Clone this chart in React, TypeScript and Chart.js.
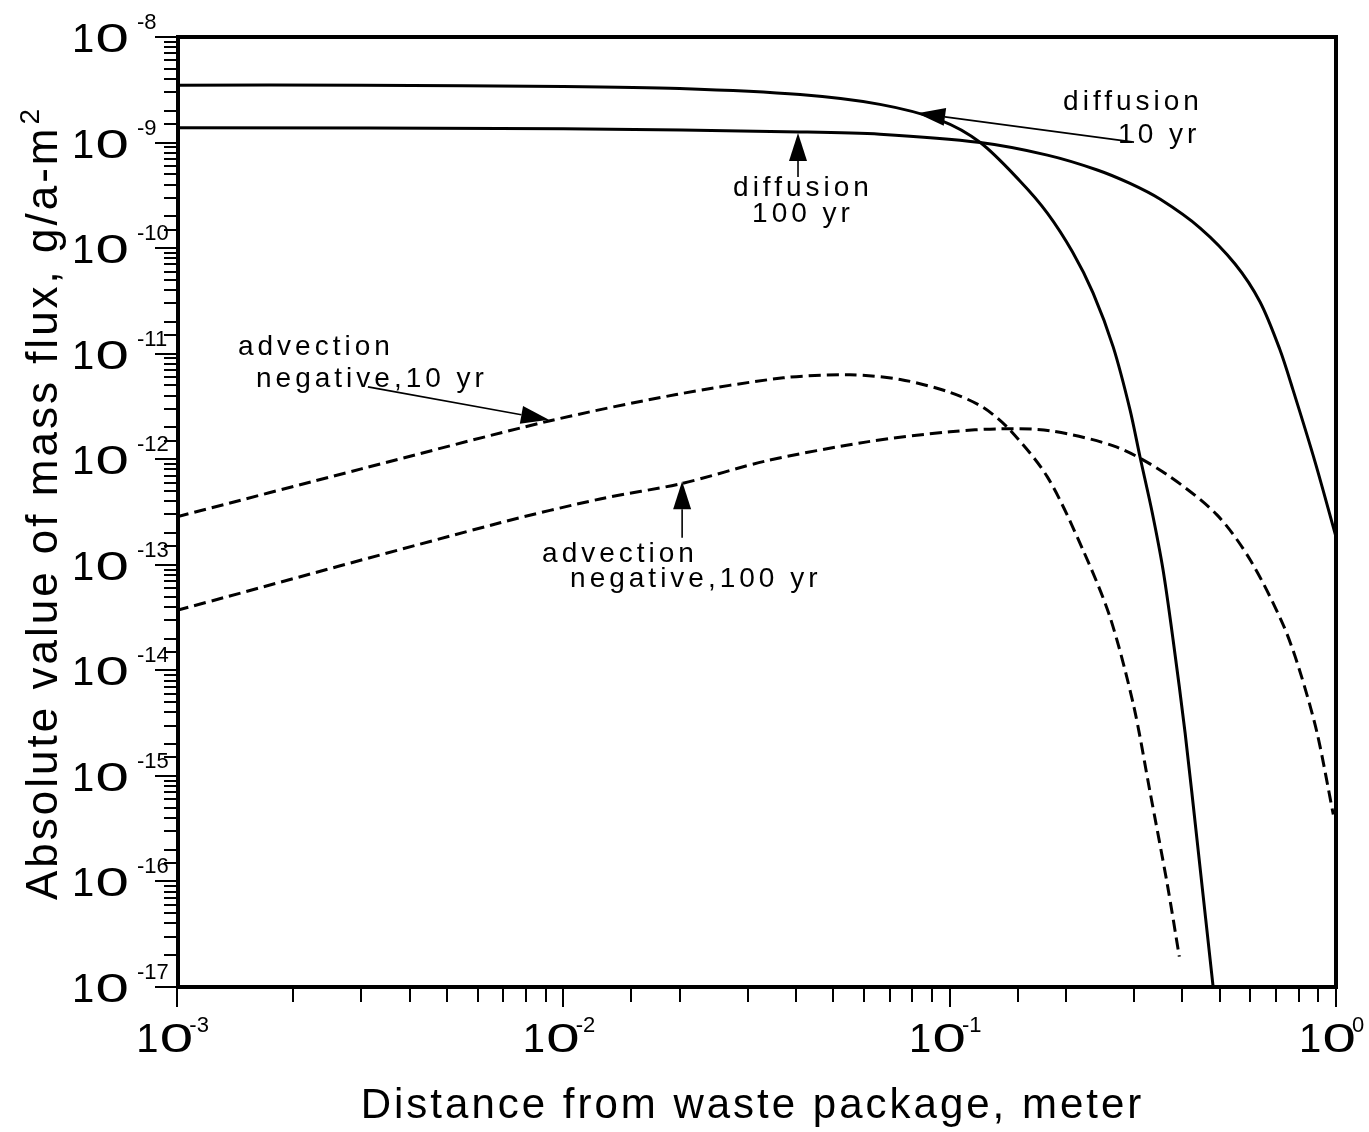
import React, { useEffect, useRef } from "react";
import { Chart, registerables } from "chart.js";

Chart.register(...registerables);

// ---- data ----
const diffusion10X = [0.001, 0.003, 0.01, 0.02, 0.041, 0.066, 0.0944, 0.12, 0.152, 0.179, 0.208, 0.235, 0.265, 0.293, 0.311, 0.3341, 0.3567, 0.3787, 0.4068, 0.4396, 0.4808];
const diffusion10Y = [3.5e-9, 3.5e-9, 3.4e-9, 3.25e-9, 2.85e-9, 2.3e-9, 1.63e-9, 1.0e-9, 4.33e-10, 2.15e-10, 9.2e-11, 3.77e-11, 1.16e-11, 2.94e-12, 1.05e-12, 3.18e-13, 8.97e-14, 1.95e-14, 2.56e-15, 2.0e-16, 1e-17];

const diffusion100X = [0.001, 0.01, 0.041, 0.066, 0.12, 0.179, 0.241, 0.293, 0.351, 0.445, 0.548, 0.636, 0.716, 0.774, 0.883, 1.0];
const diffusion100Y = [1.38e-9, 1.35e-9, 1.26e-9, 1.2e-9, 1.0e-9, 7.6e-10, 5.5e-10, 4.1e-10, 2.9e-10, 1.55e-10, 7.08e-11, 3.09e-11, 1.09e-11, 4.54e-12, 9.4e-13, 1.84e-13];

const advection10X = [0.001, 0.003, 0.00918, 0.0196, 0.0371, 0.0552, 0.0745, 0.1002, 0.122, 0.143, 0.179, 0.221, 0.26, 0.299, 0.33, 0.366, 0.393];
const advection10Y = [2.85e-13, 8.1e-13, 2.3e-12, 4.1e-12, 5.9e-12, 6.3e-12, 5.7e-12, 4.3e-12, 3.1e-12, 1.9e-12, 6.8e-13, 1.4e-13, 3.2e-14, 4.72e-15, 7.08e-16, 9.33e-17, 1.94e-17];

const advection100X = [0.001, 0.00686, 0.01245, 0.0203, 0.0336, 0.0611, 0.1002, 0.135, 0.182, 0.271, 0.366, 0.492, 0.6, 0.73, 0.807, 0.893, 0.984];
const advection100Y = [3.7e-14, 2.5e-13, 4.2e-13, 5.9e-13, 9.66e-13, 1.46e-12, 1.82e-12, 1.94e-12, 1.86e-12, 1.3e-12, 7.1e-13, 2.97e-13, 1.11e-13, 2.7e-14, 9.7e-15, 2.57e-15, 4.3e-16];

const xTickExponents = [-3, -2, -1, 0];
const yTickExponents = [-17, -16, -15, -14, -13, -12, -11, -10, -9, -8];

const xTitle = "Distance from waste package, meter";
const yTitle = "Absolute value of mass flux, g/a-m";
const yTitleSup = "2";

// annotation texts (left / baseline, in data coordinates)
const noteTexts = [
  { text: "diffusion", x: 0.1966, y: 2.035e-9 },
  { text: "10 yr", x: 0.2729, y: 9.91e-10 },
  { text: "diffusion", x: 0.0275, y: 3.12e-10 },
  { text: "100 yr", x: 0.0308, y: 1.77e-10 },
  { text: "advection", x: 0.001438, y: 9.74e-12 },
  { text: "negative,10 yr", x: 0.0016016, y: 4.85e-12 },
  { text: "advection", x: 0.008809, y: 1.068e-13 },
  { text: "negative,100 yr", x: 0.01041, y: 6.19e-14 },
];
// arrows: tail -> tip (data coordinates)
const noteArrows = [
  { x1: 0.3, y1: 1.01e-9, x2: 0.0824, y2: 1.9e-9 },
  { x1: 0.0405, y1: 4.72e-10, x2: 0.0405, y2: 1.23e-9 },
  { x1: 0.00312, y1: 4.85e-12, x2: 0.00918, y2: 2.36e-12 },
  { x1: 0.0203, y1: 1.8e-13, x2: 0.0203, y2: 6.2e-13 },
];

const FONT = '"Liberation Sans", Arial, Helvetica, sans-serif';
const ZERO_SCALE = 1.5;
const TEN_GAP = 4;

function pts(xs: number[], ys: number[]) {
  return xs.map((x, i) => ({ x, y: ys[i] }));
}

function tenMetrics(ctx: CanvasRenderingContext2D) {
  ctx.font = `40px ${FONT}`;
  const m1 = ctx.measureText("1");
  const m0 = ctx.measureText("0");
  const w1 = m1.actualBoundingBoxRight + m1.actualBoundingBoxLeft;
  const w0 = (m0.actualBoundingBoxRight + m0.actualBoundingBoxLeft) * ZERO_SCALE;
  return { m1, m0, w1, w0, total: w1 + TEN_GAP + w0 };
}

function drawTen(ctx: CanvasRenderingContext2D, inkLeft: number, baseline: number) {
  const t = tenMetrics(ctx);
  ctx.fillText("1", inkLeft + t.m1.actualBoundingBoxLeft, baseline);
  const left0 = inkLeft + t.w1 + TEN_GAP;
  ctx.save();
  ctx.translate(left0 + t.m0.actualBoundingBoxLeft * ZERO_SCALE, baseline);
  ctx.scale(ZERO_SCALE, 1);
  ctx.fillText("0", 0, 0);
  ctx.restore();
  return inkLeft + t.total;
}

function expWidth(ctx: CanvasRenderingContext2D, s: string) {
  ctx.font = `22px ${FONT}`;
  const m = ctx.measureText(s);
  return { w: m.actualBoundingBoxRight + m.actualBoundingBoxLeft, m };
}

function isMajor(v: number) {
  const lg = Math.log10(v);
  return Math.abs(lg - Math.round(lg)) < 1e-6;
}

const decor = {
  id: "decor",
  afterDraw(chart: any) {
    const ctx: CanvasRenderingContext2D = chart.ctx;
    const { left, top, right, bottom } = chart.chartArea;
    const xs = chart.scales.x;
    const ys = chart.scales.y;
    ctx.save();
    ctx.fillStyle = "#000";
    ctx.strokeStyle = "#000";
    ctx.textAlign = "left";
    ctx.textBaseline = "alphabetic";
    (ctx as any).letterSpacing = "0px";

    // frame
    ctx.lineWidth = 4;
    ctx.strokeRect(left + 1, top, right - left - 1, bottom - top);

    // ticks
    ctx.lineWidth = 2;
    ctx.beginPath();
    for (const t of ys.ticks) {
      const py = Math.round(ys.getPixelForValue(t.value));
      if (py < top - 1 || py > bottom + 1) continue;
      const len = isMajor(t.value) ? 22 : 13;
      ctx.moveTo(left - len, py);
      ctx.lineTo(left, py);
    }
    for (const t of xs.ticks) {
      const px = Math.round(xs.getPixelForValue(t.value));
      if (px < left - 1 || px > right + 1) continue;
      const len = isMajor(t.value) ? 20 : 15;
      ctx.moveTo(px, bottom);
      ctx.lineTo(px, bottom + len);
    }
    ctx.stroke();

    // y tick labels
    for (const e of yTickExponents) {
      const ty = ys.getPixelForValue(Math.pow(10, e));
      const t = tenMetrics(ctx);
      drawTen(ctx, left - 50 - t.total, ty + 15);
      const ex = expWidth(ctx, String(e));
      ctx.fillText(String(e), left - 40 + ex.m.actualBoundingBoxLeft, ty - 8);
    }
    // x tick labels
    for (const e of xTickExponents) {
      const tx = xs.getPixelForValue(Math.pow(10, e));
      const t = tenMetrics(ctx);
      const ex = expWidth(ctx, String(e));
      const total = t.total - 2 + ex.w;
      const inkLeft = tx - 3 - total / 2;
      const r = drawTen(ctx, inkLeft, bottom + 65);
      ctx.font = `22px ${FONT}`;
      ctx.fillText(String(e), r - 2 + ex.m.actualBoundingBoxLeft, bottom + 45);
    }

    // axis titles
    (ctx as any).letterSpacing = "3px";
    ctx.font = `42px ${FONT}`;
    ctx.textAlign = "center";
    ctx.fillText(xTitle, (left + right) / 2 - 4, bottom + 131);

    ctx.textAlign = "left";
    ctx.save();
    ctx.translate(left - 120, bottom - 87);
    ctx.rotate(-Math.PI / 2);
    ctx.font = `44px ${FONT}`;
    ctx.fillText(yTitle, 0, 0);
    const w = ctx.measureText(yTitle).width;
    ctx.font = `28px ${FONT}`;
    ctx.fillText(yTitleSup, w + 1, -18);
    ctx.restore();

    // annotations
    (ctx as any).letterSpacing = "4px";
    ctx.font = `28px ${FONT}`;
    for (const n of noteTexts) {
      ctx.fillText(n.text, xs.getPixelForValue(n.x), ys.getPixelForValue(n.y));
    }
    (ctx as any).letterSpacing = "0px";
    for (const a of noteArrows) {
      const x1 = xs.getPixelForValue(a.x1);
      const y1 = ys.getPixelForValue(a.y1);
      const x2 = xs.getPixelForValue(a.x2);
      const y2 = ys.getPixelForValue(a.y2);
      const dx = x2 - x1;
      const dy = y2 - y1;
      const L = Math.hypot(dx, dy);
      const ux = dx / L;
      const uy = dy / L;
      const headLen = 28;
      const half = 9;
      const bx = x2 - ux * headLen;
      const by = y2 - uy * headLen;
      ctx.lineWidth = 1.6;
      ctx.beginPath();
      ctx.moveTo(x1, y1);
      ctx.lineTo(bx, by);
      ctx.stroke();
      ctx.beginPath();
      ctx.moveTo(x2, y2);
      ctx.lineTo(bx - uy * half, by + ux * half);
      ctx.lineTo(bx + uy * half, by - ux * half);
      ctx.closePath();
      ctx.fill();
    }
    ctx.restore();
  },
};

export default function App() {
  const ref = useRef<HTMLCanvasElement | null>(null);
  useEffect(() => {
    if (!ref.current) return;
    const solid = {
      borderColor: "#000",
      borderWidth: 3,
      pointRadius: 0,
      fill: false,
      tension: 0.3,
    };
    const chart = new Chart(ref.current, {
      type: "line",
      data: {
        datasets: [
          { label: "diffusion 10 yr", data: pts(diffusion10X, diffusion10Y), ...solid },
          { label: "diffusion 100 yr", data: pts(diffusion100X, diffusion100Y), ...solid },
          { label: "advection negative, 10 yr", data: pts(advection10X, advection10Y), ...solid, borderDash: [12, 6] },
          { label: "advection negative, 100 yr", data: pts(advection100X, advection100Y), ...solid, borderDash: [12, 6] },
        ],
      },
      options: {
        animation: false,
        responsive: true,
        maintainAspectRatio: false,
        layout: { padding: { left: 0, top: 37, right: 33, bottom: 0 } },
        plugins: {
          legend: { display: false },
          tooltip: { enabled: false },
          title: { display: false },
        },
        scales: {
          x: {
            type: "logarithmic",
            min: 1e-3,
            max: 1,
            grid: { display: false, drawTicks: false },
            border: { display: false },
            ticks: { display: false },
            afterFit: (s: any) => {
              s.height = 145;
            },
          },
          y: {
            type: "logarithmic",
            min: 1e-17,
            max: 1e-8,
            grid: { display: false, drawTicks: false },
            border: { display: false },
            ticks: { display: false },
            afterFit: (s: any) => {
              s.width = 177;
            },
          },
        },
      } as any,
      plugins: [decor],
    });
    return () => chart.destroy();
  }, []);
  return (
    <div style={{ position: "fixed", left: 0, top: 0, width: 1369, height: 1132, background: "#fff" }}>
      <canvas ref={ref} />
    </div>
  );
}
